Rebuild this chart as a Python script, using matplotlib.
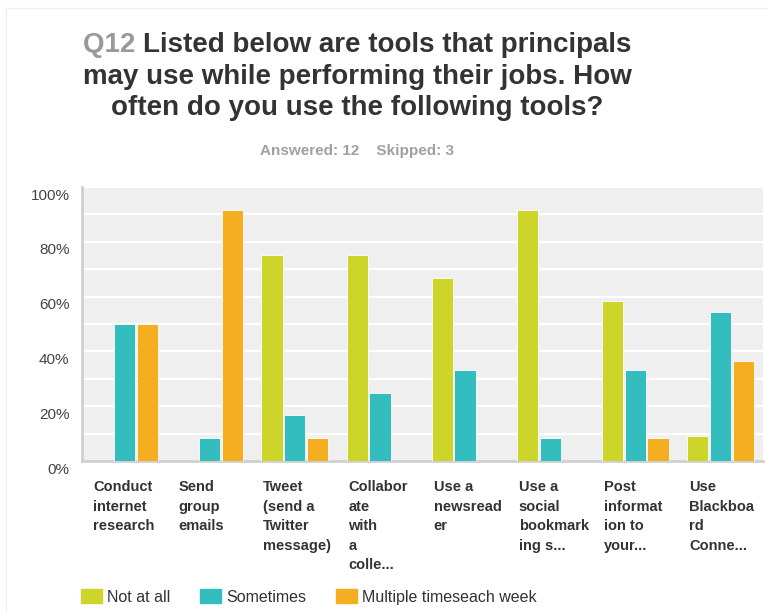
import matplotlib
matplotlib.use("Agg")
import matplotlib.pyplot as plt
import matplotlib.transforms as mtransforms
from matplotlib.patches import Patch
import numpy as np

# Survey data (percent of respondents)
categories = [
    "Conduct\ninternet\nresearch",
    "Send\ngroup\nemails",
    "Tweet\n(send a\nTwitter\nmessage)",
    "Collabor\nate\nwith\na\ncolle...",
    "Use a\nnewsread\ner",
    "Use a\nsocial\nbookmark\ning s...",
    "Post\ninformat\nion to\nyour...",
    "Use\nBlackboa\nrd\nConne...",
]
not_at_all = [0.0, 0.0, 75.0, 75.0, 66.67, 91.67, 58.33, 9.09]
sometimes = [50.0, 8.33, 16.67, 25.0, 33.33, 8.33, 33.33, 54.55]
multiple_weekly = [50.0, 91.67, 8.33, 0.0, 0.0, 0.0, 8.33, 36.36]
series_names = ["Not at all", "Sometimes", "Multiple timeseach week"]
yticks = [0, 20, 40, 60, 80, 100]

colors = ["#cdd42a", "#33bdbe", "#f5ae1f"]
dark = "#333333"
narrow = ["Liberation Sans Narrow", "Liberation Sans", "DejaVu Sans"]
sans = ["Liberation Sans", "DejaVu Sans"]

fig = plt.figure(figsize=(7.68, 6.13), dpi=100)
ax = fig.add_axes([82 / 768, 1 - 461 / 613, 681 / 768, 274 / 613])
ax.set_facecolor("#efefef")

x = np.arange(len(categories))
step = 0.267
width = 0.25
for k, vals in enumerate([not_at_all, sometimes, multiple_weekly]):
    ax.bar(x + (k - 1) * step, vals, width=width, color=colors[k],
           edgecolor="white", linewidth=0.6, zorder=3)

ax.set_xlim(-0.5, len(categories) - 0.5)
ax.set_ylim(0, 100)
for yv in np.arange(10, 101, 10):
    ax.axhline(yv, color="white", linewidth=1.6, zorder=1)
ax.set_yticks(yticks)
ax.set_yticklabels([f"{v}%" for v in yticks], family=sans, fontsize=11,
                   color="#444444")
ax.tick_params(axis="y", length=0, pad=9)
ax.set_xticks([])
for side in ["top", "right"]:
    ax.spines[side].set_visible(False)
for side in ["left", "bottom"]:
    ax.spines[side].set_color("#d0d0d0")
    ax.spines[side].set_linewidth(2)

# nudge the percent labels a little below their gridlines
shift = mtransforms.ScaledTranslation(0, -7 / 100, fig.dpi_scale_trans)
for lab in ax.get_yticklabels():
    lab.set_transform(lab.get_transform() + shift)

# wrapped category names under each group
for i, name in enumerate(categories):
    ax.annotate(name, xy=(i - 0.37, 0), xycoords=("data", "axes fraction"),
                xytext=(0, -14), textcoords="offset points", ha="left", va="top",
                fontsize=10.5, fontweight="bold", color=dark, family=sans,
                linespacing=1.5)

# title, question number in grey
cx = 357 / 768
t1a = fig.text(cx, 1 - 45 / 613, "Q12 ", fontsize=20, fontweight="bold",
               color="#999999", family=narrow, ha="left", va="center")
t1b = fig.text(cx, 1 - 45 / 613, "Listed below are tools that principals",
               fontsize=20, fontweight="bold", color=dark, family=narrow,
               ha="left", va="center")
fig.text(cx, 1 - 77 / 613, "may use while performing their jobs. How",
         fontsize=20, fontweight="bold", color=dark, family=narrow,
         ha="center", va="center")
fig.text(cx, 1 - 108 / 613, "often do you use the following tools?",
         fontsize=20, fontweight="bold", color=dark, family=narrow,
         ha="center", va="center")

fig.canvas.draw()
r = fig.canvas.get_renderer()
wa = t1a.get_window_extent(r).width / fig.bbox.width
wb = t1b.get_window_extent(r).width / fig.bbox.width
start = cx - (wa + wb) / 2
t1a.set_x(start)
t1b.set_x(start + wa)

fig.text(cx, 1 - 151 / 613, "Answered: 12    Skipped: 3", fontsize=11,
         fontweight="bold", color="#a0a0a0", family=narrow, ha="center",
         va="center")

handles = [Patch(facecolor=c, edgecolor=c) for c in colors]
fig.legend(handles, series_names, loc="center left",
           bbox_to_anchor=(70 / 768, 1 - 597 / 613), ncol=3, frameon=False,
           prop={"family": sans, "size": 11.5}, handlelength=1.3,
           handleheight=1.0, handletextpad=0.3, columnspacing=1.9,
           labelcolor=dark, borderpad=0.2)

# faint outer frame lines
fig.add_artist(plt.Line2D([6 / 768, 6 / 768], [0, 1 - 8 / 613],
                          color="#f0f0f0", linewidth=1))
fig.add_artist(plt.Line2D([6 / 768, 1], [1 - 8 / 613, 1 - 8 / 613],
                          color="#f0f0f0", linewidth=1))

fig.savefig("out.png", dpi=100)
